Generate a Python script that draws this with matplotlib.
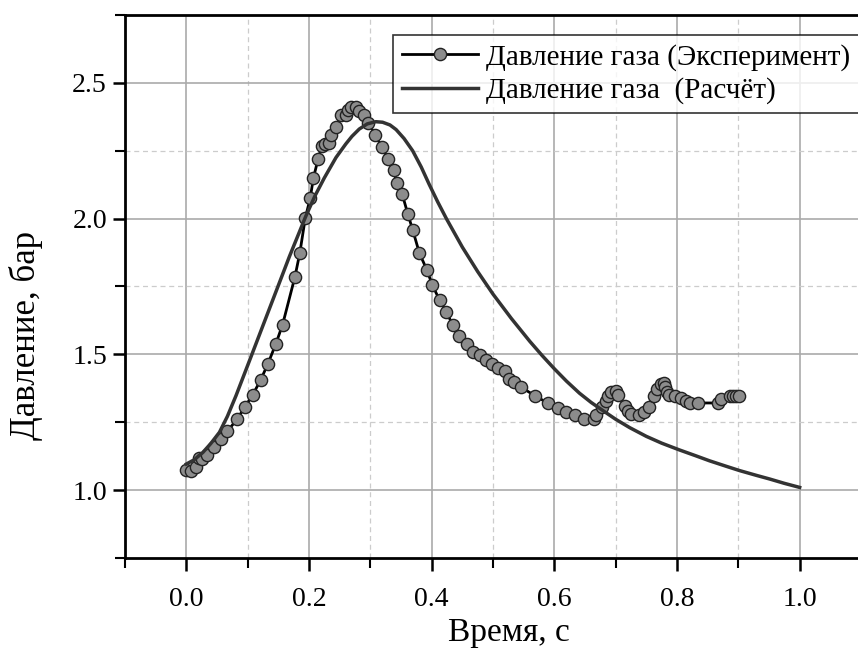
import matplotlib
matplotlib.use("Agg")
import matplotlib.pyplot as plt
from matplotlib.ticker import MultipleLocator

plt.rcParams['font.family'] = ['Liberation Serif', 'DejaVu Serif']

# Experiment: time (s), pressure (bar)
exp_t = [0.000, 0.008, 0.015, 0.020, 0.026, 0.034, 0.045, 0.057, 0.067, 0.083,
         0.095, 0.108, 0.121, 0.133, 0.146, 0.157, 0.177, 0.185, 0.194, 0.202,
         0.207, 0.215, 0.221, 0.226, 0.232, 0.236, 0.244, 0.252, 0.261, 0.263,
         0.269, 0.277, 0.281, 0.289, 0.297, 0.308, 0.319, 0.328, 0.338, 0.343,
         0.352, 0.361, 0.369, 0.380, 0.392, 0.401, 0.413, 0.424, 0.434, 0.445,
         0.457, 0.467, 0.478, 0.488, 0.499, 0.508, 0.519, 0.526, 0.535, 0.546,
         0.568, 0.589, 0.606, 0.619, 0.633, 0.648, 0.664, 0.668, 0.677, 0.684,
         0.687, 0.693, 0.700, 0.704, 0.715, 0.720, 0.725, 0.738, 0.746, 0.754,
         0.763, 0.768, 0.774, 0.778, 0.781, 0.784, 0.787, 0.796, 0.807, 0.815,
         0.822, 0.834, 0.867, 0.872, 0.886, 0.891, 0.897, 0.901]
exp_p = [1.075, 1.071, 1.084, 1.117, 1.114, 1.129, 1.158, 1.188, 1.217, 1.262,
         1.305, 1.350, 1.405, 1.465, 1.539, 1.610, 1.785, 1.873, 2.003, 2.075,
         2.148, 2.221, 2.267, 2.274, 2.279, 2.307, 2.338, 2.381, 2.381, 2.400,
         2.410, 2.410, 2.396, 2.381, 2.353, 2.307, 2.264, 2.221, 2.178, 2.133,
         2.090, 2.018, 1.959, 1.873, 1.812, 1.756, 1.699, 1.656, 1.610, 1.567,
         1.539, 1.510, 1.496, 1.480, 1.465, 1.449, 1.437, 1.410, 1.397, 1.379,
         1.348, 1.321, 1.303, 1.289, 1.275, 1.262, 1.262, 1.277, 1.305, 1.330,
         1.348, 1.360, 1.366, 1.350, 1.309, 1.293, 1.280, 1.277, 1.289, 1.307,
         1.348, 1.373, 1.391, 1.395, 1.379, 1.360, 1.350, 1.348, 1.338, 1.330,
         1.321, 1.321, 1.321, 1.336, 1.348, 1.348, 1.348, 1.348]

# Calculation: time (s), pressure (bar)
calc_t = [0.000, 0.013, 0.027, 0.040, 0.054, 0.067, 0.081, 0.103, 0.130, 0.157,
          0.168, 0.195, 0.210, 0.225, 0.244, 0.260, 0.270, 0.282, 0.295, 0.309,
          0.320, 0.332, 0.342, 0.355, 0.369, 0.383, 0.396, 0.410, 0.424, 0.450,
          0.475, 0.500, 0.530, 0.560, 0.580, 0.600, 0.620, 0.641, 0.660, 0.685,
          0.700, 0.723, 0.750, 0.775, 0.804, 0.830, 0.853, 0.880, 0.902, 0.930,
          0.951, 0.975, 1.000]
calc_p = [1.096, 1.112, 1.139, 1.172, 1.213, 1.272, 1.348, 1.477, 1.636, 1.795,
          1.860, 2.010, 2.085, 2.150, 2.225, 2.275, 2.303, 2.330, 2.349, 2.357,
          2.355, 2.345, 2.328, 2.295, 2.250, 2.190, 2.126, 2.061, 2.000, 1.895,
          1.805, 1.722, 1.632, 1.548, 1.496, 1.447, 1.401, 1.357, 1.323, 1.284,
          1.261, 1.230, 1.198, 1.173, 1.148, 1.127, 1.108, 1.088, 1.072, 1.054,
          1.041, 1.025, 1.010]

label_exp = "Давление газа (Эксперимент)"
label_calc = "Давление газа  (Расчёт)"

fig = plt.figure(figsize=(8.58, 6.51), dpi=100)
ax = fig.add_axes([125/858, 1-558/651, (861-125)/858, (558-15)/651])

ax.plot(exp_t, exp_p, color='black', lw=2, marker='o', markersize=8.8,
        markerfacecolor='#8c8c8c', markeredgecolor='#222222', markeredgewidth=1.0,
        label=label_exp, zorder=3)
ax.plot(calc_t, calc_p, color='#333333', lw=2.5, label=label_calc, zorder=4,
        solid_joinstyle='round')

ax.set_xlim(-0.1, 1.1)
ax.set_ylim(0.75, 2.75)
ax.xaxis.set_major_locator(MultipleLocator(0.2))
ax.xaxis.set_minor_locator(MultipleLocator(0.1))
ax.yaxis.set_major_locator(MultipleLocator(0.5))
ax.yaxis.set_minor_locator(MultipleLocator(0.25))
ax.set_xticks([0.0, 0.2, 0.4, 0.6, 0.8, 1.0])
ax.set_yticks([1.0, 1.5, 2.0, 2.5])

ax.grid(which='major', color='#aaaaaa', lw=1.2, ls='-')
ax.grid(which='minor', color='#cccccc', lw=0.9, ls=(0, (4, 3)))
ax.set_axisbelow(True)

for s in ax.spines.values():
    s.set_linewidth(2)
ax.tick_params(which='major', direction='out', length=9, width=1.8, labelsize=20)
ax.tick_params(which='minor', direction='out', length=7, width=1.5)
ax.tick_params(axis='x', pad=12)
ax.tick_params(axis='y', pad=4)

ax.set_xlabel("Время, с", fontsize=24)
ax.xaxis.set_label_coords((509 - 125) / 736, -(633 - 558) / 543, transform=ax.transAxes)
ax.xaxis.label.set_va('center')
ax.set_ylabel("Давление, бар", fontsize=25)
ax.yaxis.set_label_coords(-(125 - 26) / 736, (558 - 336) / 543, transform=ax.transAxes)
ax.yaxis.label.set_va('center')

leg = ax.legend(loc='upper left', bbox_to_anchor=(393/858, 1-35/651),
                bbox_transform=fig.transFigure, fontsize=21, frameon=True,
                fancybox=False, edgecolor='black', handlelength=2.6,
                borderpad=0.3, labelspacing=0.22, handletextpad=0.3,
                borderaxespad=0)
leg.get_frame().set_linewidth(1.2)

fig.savefig("out.png", dpi=100)
